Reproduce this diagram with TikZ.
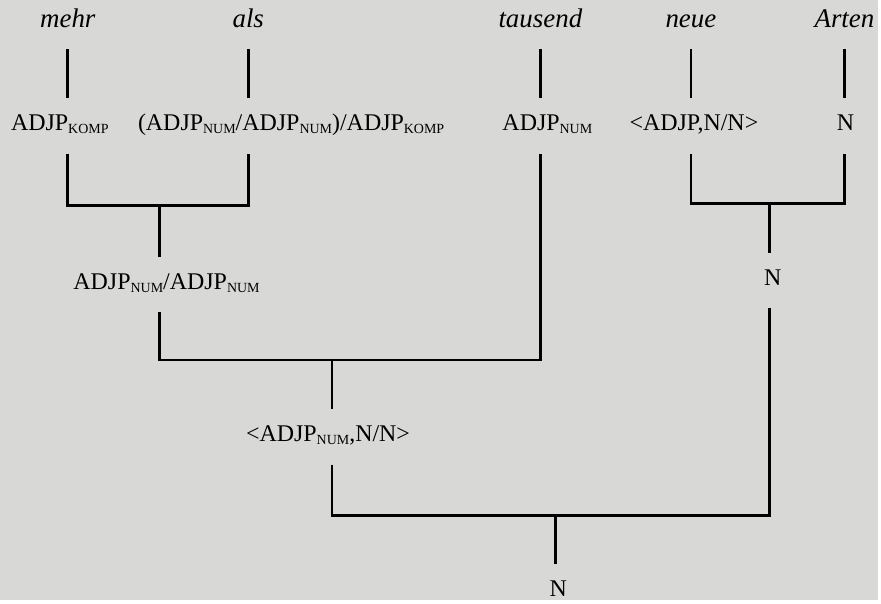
\documentclass[tikz,border=0pt]{standalone}
\usepackage{fontspec}
\setmainfont{Liberation Serif}
\usepackage{tikz}
\usetikzlibrary{arrows,shapes}
\definecolor{paper}{RGB}{216,216,214}
\tikzstyle{word}=[font=\fontsize{13.5}{15}\selectfont\itshape,anchor=base,text height=8.5pt,text depth=3pt,inner ysep=0pt,outer ysep=7.5pt]
\tikzstyle{cat}=[font=\fontsize{12}{14}\selectfont,anchor=base,text height=8.2pt,text depth=3.5pt,inner ysep=0pt,outer ysep=8pt]
\tikzstyle{branch}=[draw,line width=1.4pt]
\newcommand{\sub}[1]{\raisebox{-1.6pt}{\fontsize{7}{8}\selectfont #1}}
\newcommand{\adjp}[1]{ADJP\sub{#1}}

\begin{document}
\begin{tikzpicture}[x=0.5pt,y=-0.5pt]

    \fill[paper] (0,0) rectangle (881,602);

    % the words
     \foreach \x/\name/\txt in {68/w1/mehr, 249/w2/als, 542/w3/tausend, 693/w4/neue, 847/w5/Arten}
        \node[word] (\name) at (\x,28) {\txt};

    % lexical categories
     \foreach \x/\name/\txt in {60/c1/{\adjp{KOMP}}, 292/c2/{(\adjp{NUM}/\adjp{NUM})/\adjp{KOMP}},
                                 549/c3/{\adjp{NUM}}, 696/c4/{<ADJP,N/N>}, 848/c5/{N}}
        \node[cat] (\name) at (\x,131) {\txt};

    % derived categories
        \node[cat] (p1) at (167,290) {\adjp{NUM}/\adjp{NUM}};
        \node[cat] (p2) at (775,286) {N};
        \node[cat] (p3) at (329,443) {<\adjp{NUM},N/N>};
        \node[cat] (root) at (560,598) {N};

    \coordinate (j1) at (160,206);
    \coordinate (j2) at (772,204);
    \coordinate (j3) at (333,361);
    \coordinate (j4) at (557,517);

    \foreach \w/\c in {w1/c1, w2/c2, w3/c3, w4/c4, w5/c5}
        \path[branch] (\w.south) -- (\w.south |- \c.north);

        \path[branch] (w1.south |- c1.south) |- (j1) -| (w2.south |- c2.south);
        \path[branch] (j1) -- (j1 |- p1.north);

        \path[branch] (w4.south |- c4.south) |- (j2) -| (w5.south |- c5.south);
        \path[branch] (j2) -- (j2 |- p2.north);

        \path[branch] (j1 |- p1.south) |- (j3) -| (w3.south |- c3.south);
        \path[branch] (j3) -- (j3 |- p3.north);

        \path[branch] (j3 |- p3.south) |- (j4) -| (j2 |- p2.south);
        \path[branch] (j4) -- (j4 |- root.north);

\end{tikzpicture}
\end{document}
